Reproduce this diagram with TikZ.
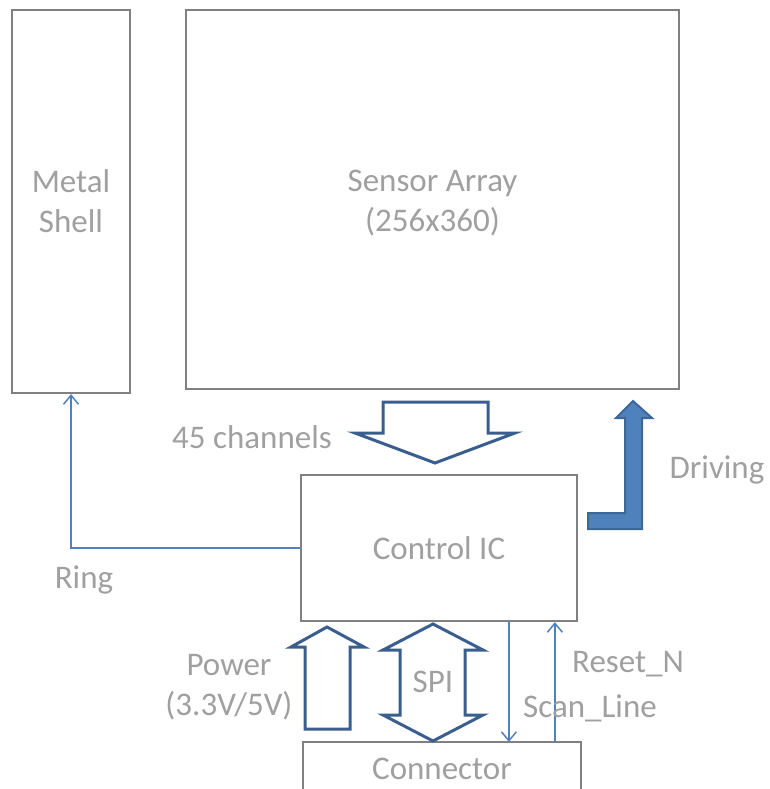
\documentclass[tikz,border=0pt]{standalone}
\usepackage{fontspec}
\setmainfont{Carlito}
\usetikzlibrary{arrows.meta}
\definecolor{txtgray}{HTML}{A0A0A0}
\definecolor{boxgray}{HTML}{808080}
\definecolor{sigblue}{HTML}{4F81BD}
\definecolor{arrline}{HTML}{3A5F8E}
\definecolor{drvline}{HTML}{3C6898}
\tikzset{
  box/.style={draw=boxgray, line width=2.2pt, fill=white, inner sep=0pt, align=center,
    text=txtgray, font=\fontsize{33}{40}\selectfont},
  lbl/.style={inner sep=0pt, align=center, text=txtgray, font=\fontsize{33}{40}\selectfont},
  sig/.style={draw=sigblue, line width=1.5pt, -{Straight Barb[length=9pt,width=15pt,line width=1.5pt]}},
  hollow/.style={draw=arrline, fill=white, line width=3pt, line join=miter},
  solidarr/.style={draw=drvline, fill=sigblue, line width=2pt, line join=miter}
}
\begin{document}
\begin{tikzpicture}[x=1pt,y=-1pt]
\useasboundingbox (0,0) rectangle (769,789);
% boxes
\node[box, minimum width=118pt, minimum height=383pt] (shell) at (71,201.5) {Metal\\Shell};
\node[box, minimum width=493pt, minimum height=379pt] (array) at (432.5,199.5) {};
\node[lbl] (arraytxt) at (432.5,203) {Sensor Array\\(256x360)};
\node[box, minimum width=276pt, minimum height=146pt] (ctrl) at (439,548) {Control IC};
\node[box, draw=none, minimum width=276pt, minimum height=52pt] (conn) at (442,769) {Connector};
\draw[boxgray, line width=2.2pt] (conn.south west) -- (conn.north west) -- (conn.north east) -- (conn.south east);
% 45 channels arrow
\draw[hollow] (383,402) -- (488,402) -- (488,433) -- (515,433) -- (435,463) -- (355,433) -- (383,433) -- cycle;
\node[lbl] (chan) at (252,437) {45 channels};
% driving arrow
\draw[solidarr] (588,513) -- (625,513) -- (625,418) -- (616,418) -- (633,401) -- (652,418) -- (642,418) -- (642,529) -- (588,529) -- cycle;
\node[lbl] (drv) at (717,470) {Driving};
% power arrow
\draw[hollow] (305,729) -- (305,647) -- (291,647) -- (327,627) -- (364,647) -- (350,647) -- (350,729) -- cycle;
\node[lbl] (pwr) at (229,687) {Power\\(3.3V/5V)};
% SPI arrow
\draw[hollow] (433,624) -- (483,650) -- (465,650) -- (465,715) -- (483,715) -- (433,741) -- (383,715) -- (400,715) -- (400,650) -- (383,650) -- cycle;
\node[lbl] (spi) at (433,682) {SPI};
% signals
\draw[sig] (ctrl.west) -| (shell.south);
\node[lbl] (ring) at (84,580) {Ring};
\draw[sig] ([xshift=209pt]ctrl.south west) -- ([xshift=206pt]conn.north west);
\draw[sig] ([xshift=252pt]conn.north west) -- ([xshift=255pt]ctrl.south west);
\node[lbl] (reset) at (628,664) {Reset\_N};
\node[lbl] (scan) at (590,708) {Scan\_Line};
\end{tikzpicture}
\end{document}
